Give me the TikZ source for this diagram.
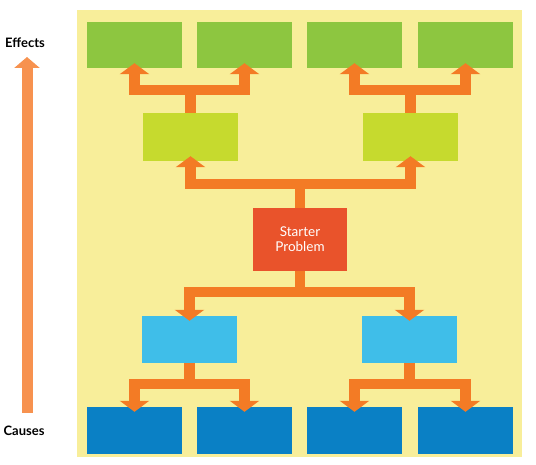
\documentclass[tikz,border=0pt]{standalone}
\usepackage{fontspec}
\setmainfont{Lato}
\usetikzlibrary{arrows.meta}
\definecolor{bgyellow}{HTML}{F8EE9A}
\definecolor{effgreen}{HTML}{8DC640}
\definecolor{midgreen}{HTML}{C6DA2E}
\definecolor{startred}{HTML}{E9532B}
\definecolor{lightblue}{HTML}{3FBEE9}
\definecolor{darkblue}{HTML}{0A80C5}
\definecolor{conorange}{HTML}{F37B25}
\definecolor{sideorange}{HTML}{F7924F}
\tikzset{
  box/.style={rectangle, draw=none, minimum width=95pt, minimum height=47pt, inner sep=0pt},
  effbox/.style={box, fill=effgreen, minimum height=46pt},
  midbox/.style={box, fill=midgreen, minimum height=48pt},
  causebox/.style={box, fill=lightblue},
  rootbox/.style={box, fill=darkblue},
  startbox/.style={box, fill=startred, minimum width=94pt, minimum height=63pt, text=white, font=\fontsize{13.5}{15}\selectfont, align=center},
  conn/.style={draw=conorange, line width=10.5pt, line join=miter, line cap=butt,
    -{Triangle[width=29pt,length=11pt]}, shorten >=-5pt},
  lbl/.style={font=\bfseries\fontsize{13}{14}\selectfont, text=black}
}
\begin{document}
\begin{tikzpicture}[x=1pt,y=1pt]
\useasboundingbox (0,0) rectangle (536,465);
\fill[bgyellow] (77,8) rectangle (522,455);
% effect boxes
\node[effbox] (e1) at (134.5,420) {};
\node[effbox] (e2) at (244.5,420) {};
\node[effbox] (e3) at (354.5,420) {};
\node[effbox] (e4) at (465.5,420) {};
% middle effect boxes
\node[midbox] (m1) at (190.5,328) {};
\node[midbox] (m2) at (410.5,328) {};
% starter
\node[startbox] (s) at (300,225.5) {Starter\\Problem};
% causes
\node[causebox] (c1) at (189.5,125.5) {};
\node[causebox] (c2) at (409.5,125.5) {};
% root causes
\node[rootbox] (r1) at (134.5,34.5) {};
\node[rootbox] (r2) at (244.5,34.5) {};
\node[rootbox] (r3) at (354.5,34.5) {};
\node[rootbox] (r4) at (465.5,34.5) {};
% connectors upward
\draw[conn] (m1.north) |- (m1.north |- 0,375) -| (e1.south);
\draw[conn] (m1.north) |- (m1.north |- 0,375) -| (e2.south);
\draw[conn] (m2.north) |- (m2.north |- 0,375) -| (e3.south);
\draw[conn] (m2.north) |- (m2.north |- 0,375) -| (e4.south);
\draw[conn] (s.north) |- (s.north |- 0,281) -| (m1.south);
\draw[conn] (s.north) |- (s.north |- 0,281) -| (m2.south);
% connectors downward
\draw[conn] (s.south) |- (s.south |- 0,173) -| (c1.north);
\draw[conn] (s.south) |- (s.south |- 0,173) -| (c2.north);
\draw[conn] (c1.south) |- (c1.south |- 0,81) -| (r1.north);
\draw[conn] (c1.south) |- (c1.south |- 0,81) -| (r2.north);
\draw[conn] (c2.south) |- (c2.south |- 0,81) -| (r3.north);
\draw[conn] (c2.south) |- (c2.south |- 0,81) -| (r4.north);
% side arrow and labels
\node[lbl] (eff) at (25,422) {Effects};
\node[lbl] (cau) at (24,34) {Causes};
\coordinate (sbot) at (27,52);
\coordinate (stop) at (27,408);
\draw[sideorange, line width=11pt, -{Triangle[width=25pt,length=11pt]}] (sbot) -- (stop);
\end{tikzpicture}
\end{document}
